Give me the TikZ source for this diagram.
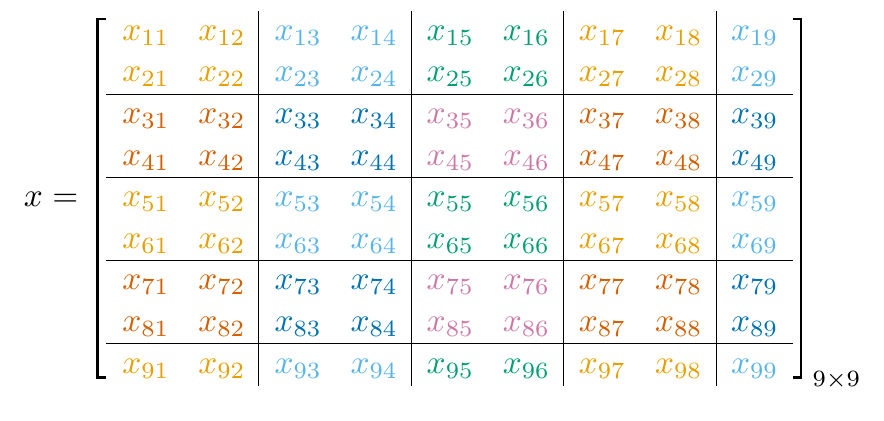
\documentclass[tikz,border=0pt]{standalone}
\definecolor{cA1}{HTML}{E69F00}
\definecolor{cA2}{HTML}{56B4E9}
\definecolor{cA3}{HTML}{009E73}
\definecolor{cB1}{HTML}{D55E00}
\definecolor{cB2}{HTML}{0072B2}
\definecolor{cB3}{HTML}{CC79A7}
\tikzset{
  cell/.style={anchor=base west, inner sep=0pt, outer sep=0pt},
  rule/.style={line width=0.4pt, black},
  brack/.style={line width=0.65pt, black, line join=miter},
  lbl/.style={anchor=base west, inner sep=0pt, outer sep=0pt}
}
\begin{document}
\begin{tikzpicture}[x=0.3pt,y=-0.3pt]
\useasboundingbox (0,0) rectangle (884,420);
% cells
\foreach \i/\rt in {1/A,2/A,3/B,4/B,5/A,6/A,7/B,8/B,9/A}{
  \foreach \j/\ct in {1/1,2/1,3/2,4/2,5/3,6/3,7/1,8/1,9/2}{
    \node[cell, text=c\rt\ct] (c\i\j) at ({122.3+76.1*(\j-1)},{40.3+41.6*(\i-1)}) {$x_{\i\j}$};
  }
}
% block rules
\foreach \xx in {258.3,411.5,563.7,716.2}{
  \draw[rule] (\xx,11) -- (\xx,385.5);
}
\foreach \yy in {94.3,177.3,260.3,343.3}{
  \draw[rule] (106,\yy) -- (793,\yy);
}
% brackets
\draw[brack] (106,19) -- (97.5,19) -- (97.5,377.5) -- (106,377.5);
\draw[brack] (792.5,19) -- (801.3,19) -- (801.3,377.5) -- (792.5,377.5);
% labels
\node[lbl] (lhs) at (24,207) {$x =$};
\node[lbl] (dim) at (812.5,386) {$\scriptstyle 9\times9$};
\end{tikzpicture}
\end{document}
